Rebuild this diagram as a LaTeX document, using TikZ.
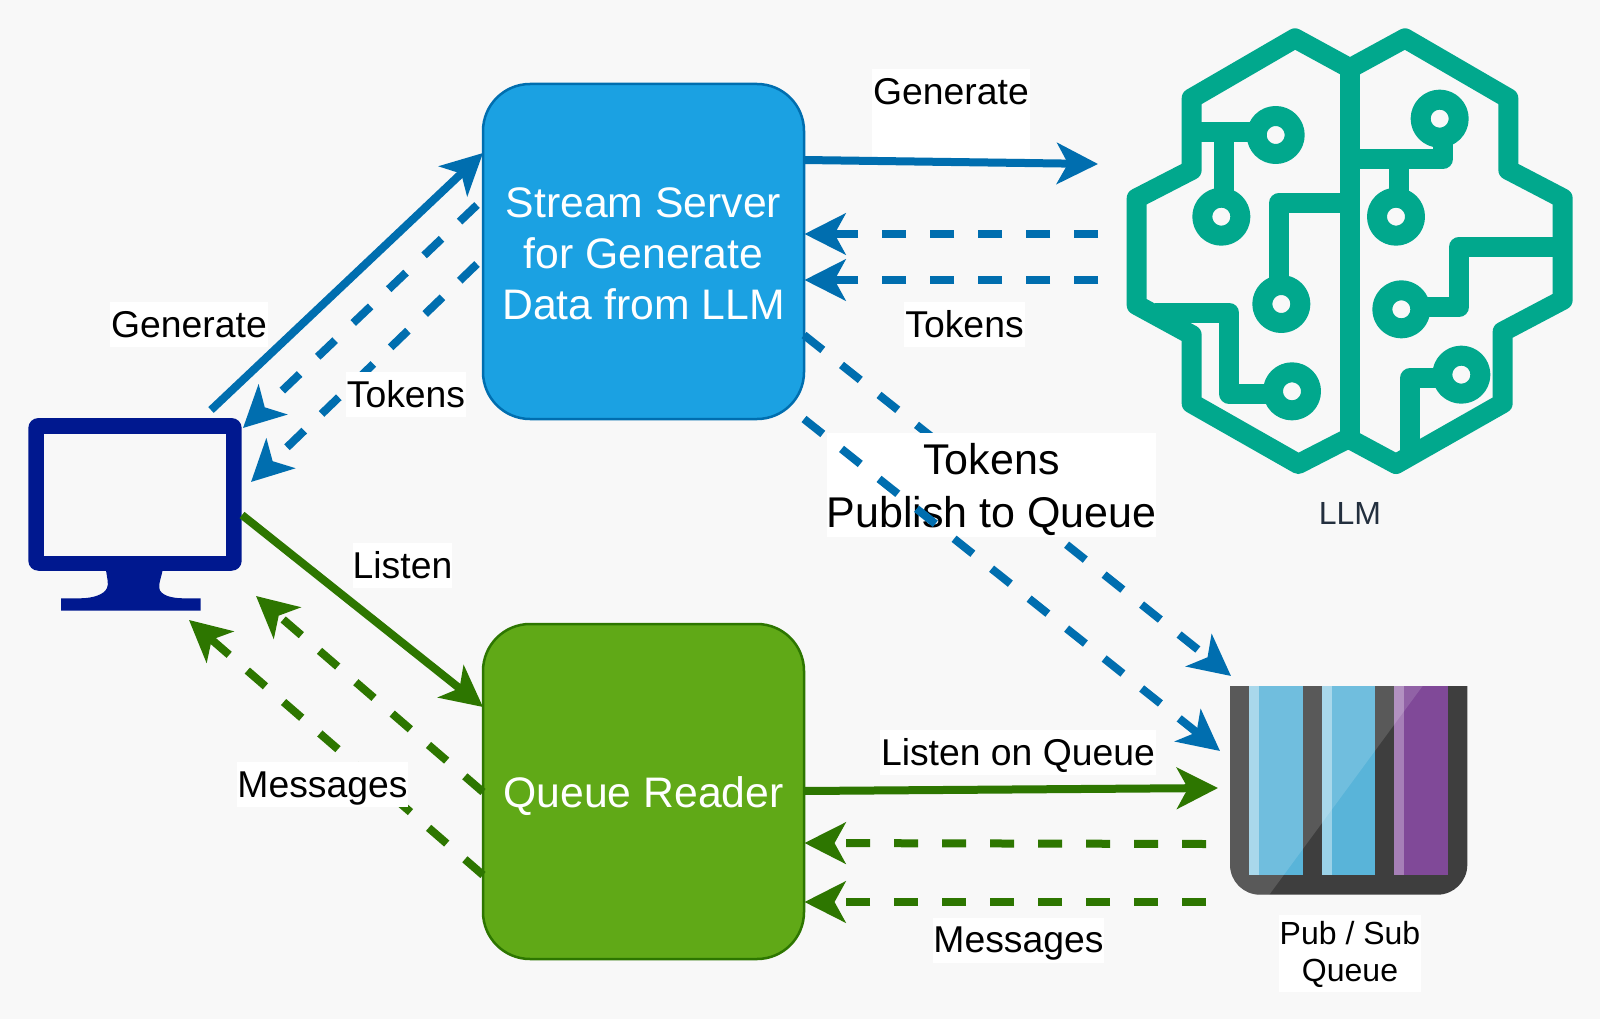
\documentclass[tikz,border=0pt]{standalone}
\usepackage{fontspec}
\setmainfont{Liberation Sans}
\usetikzlibrary{arrows.meta}
\definecolor{bgc}{HTML}{F8F8F8}
\definecolor{bluel}{HTML}{006EAF}
\definecolor{greenl}{HTML}{2D7600}
\definecolor{blueb}{HTML}{1BA1E2}
\definecolor{greenb}{HTML}{60A917}
\definecolor{teal}{HTML}{01A88D}
\definecolor{mon}{HTML}{00188F}
\definecolor{llmtext}{HTML}{232F3E}
\definecolor{qdark}{HTML}{3E3E3E}
\definecolor{qblue}{HTML}{59B4D9}
\definecolor{qpurple}{HTML}{804998}
\tikzset{
  headtip/.tip={Stealth[length=41pt,width=41pt,inset=11pt]},
  conn/.style={line width=8pt,-headtip},
  dashconn/.style={conn,dash pattern=on 24pt off 24pt},
  blueconn/.style={bluel,conn},
  bluedash/.style={bluel,dashconn},
  greenconn/.style={greenl,conn},
  greendash/.style={greenl,dashconn},
  proc/.style={rounded corners=47pt,line width=2.5pt,inner sep=0pt,minimum width=321pt,text=white,
    font=\fontsize{42.7}{51.2}\selectfont,align=center},
  lab/.style={fill=white,inner sep=0pt,font=\fontsize{37.33}{43}\selectfont,text=black,align=center},
  wire/.style={line width=20pt,teal,line join=round},
  pad/.style={wire,fill=bgc},
}
\begin{document}
\begin{tikzpicture}[x=1pt,y=-1pt]
\useasboundingbox (0,0) rectangle (1600,1019);
\fill[bgc] (0,0) rectangle (1600,1019);

% Stream server and queue reader
\node[proc,fill=blueb,draw=bluel,minimum height=335pt,text height=146pt,text depth=10pt] (server) at (643.5,251.5) {Stream Server\\for Generate\\Data from LLM};
\node[proc,fill=greenb,draw=greenl,minimum height=335pt,text height=40pt,text depth=9pt] (reader) at (643.5,791.5) {Queue Reader};

% Monitor
\node[fill=mon,rounded corners=10pt,inner sep=0pt,minimum width=213.4pt,minimum height=152.7pt] (client) at (135,494.4) {};
\fill[bgc] (44,434) rectangle (226,555.7);
\fill[mon] (106,570) .. controls (107,578) and (109,584) .. (107,588)
  .. controls (104,595) and (92,598.3) .. (80,598.3) -- (61,598.3) -- (61,610.7) -- (200.7,610.7) -- (200.7,598.3) -- (183.3,598.3)
  .. controls (171,598.3) and (160,595) .. (159.3,588) .. controls (158.5,584) and (161,578) .. (162.7,570) -- cycle;

% LLM brain
\node[inner sep=0pt,minimum width=444pt,minimum height=448pt] (llm) at (1350,250) {};
\begin{scope}[shift={(1110,10)},x=0.33333pt,y=-0.33333pt]
  \draw[wire] (720,175) -- (555,85) -- (245,265) -- (245,480) -- (80,565) -- (80,885) -- (245,975) -- (245,1180) -- (565,1362) -- (715,1285) -- (858,1362) -- (1178,1180) -- (1178,965) -- (1358,870) -- (1358,565) -- (1195,480) -- (1195,265) -- (885,85) -- cycle;
  \draw[wire] (720,175) -- (720,1290);
  \draw[wire] (245,367) -- (497,367);
  \draw[wire] (342,367) -- (342,620);
  \draw[wire] (720,578) -- (508,578) -- (508,882);
  \draw[wire] (135,908) -- (358,908) -- (358,1152) -- (546,1152);
  \draw[wire] (720,448) -- (998,448) -- (998,326);
  \draw[wire] (866,448) -- (866,620);
  \draw[wire] (1358,710) -- (1048,710) -- (1048,890) -- (874,890);
  \draw[wire] (1054,1105) -- (900,1105) -- (900,1325);
  \foreach \px/\py in {497/375,334/620,514/882,546/1144,989/326,858/620,874/898,1054/1094}
    \draw[pad] (\px,\py) circle[radius=57];
\end{scope}

% Pub/Sub queue
\node[inner sep=0pt,minimum width=237.3pt,minimum height=208.7pt] (queue) at (1348.6,790.4) {};
\fill[qdark] (1230,686) -- (1467.3,686) -- (1467.3,864.7) .. controls (1467.3,881.3) and (1453.9,894.7) .. (1437.3,894.7) -- (1260,894.7) .. controls (1243.4,894.7) and (1230,881.3) .. (1230,864.7) -- cycle;
\fill[qblue] (1249.3,686) rectangle (1302.7,875);
\fill[qblue] (1322,686) rectangle (1375.3,875);
\fill[qpurple] (1394.3,686) rectangle (1448,875);
\fill[white,opacity=0.4] (1249.3,686) rectangle (1259,875);
\fill[white,opacity=0.4] (1322,686) rectangle (1331.7,875);
\fill[white,opacity=0.3] (1394.3,686) rectangle (1404,875);
\begin{scope}
  \clip (1230,686) -- (1467.3,686) -- (1467.3,864.7) .. controls (1467.3,881.3) and (1453.9,894.7) .. (1437.3,894.7) -- (1260,894.7) .. controls (1243.4,894.7) and (1230,881.3) .. (1230,864.7) -- cycle;
  \fill[white,opacity=0.14] (1225,680) -- (1427,680) -- (1269.3,894.7) -- (1225,900) -- cycle;
\end{scope}

% Connector ends
\coordinate (cGenOut) at (211,410);
\coordinate (sGenIn) at (483,153);
\coordinate (sTokA) at (477,205);
\coordinate (cTokA) at (243,428);
\coordinate (sTokB) at (477,264);
\coordinate (cTokB) at (251,482);
\coordinate (sGenOut) at (804,160);
\coordinate (lGenIn) at (1098,164);
\coordinate (lTokA) at (1098,234);
\coordinate (sTokC) at (804.5,234);
\coordinate (lTokB) at (1098,280);
\coordinate (sTokD) at (804.5,280);
\coordinate (sPubA) at (804,335);
\coordinate (qPubA) at (1231,676);
\coordinate (sPubB) at (804,419);
\coordinate (qPubB) at (1220,751);
\coordinate (cLisOut) at (242,515);
\coordinate (rLisIn) at (483,707);
\coordinate (rMsgA) at (483,792);
\coordinate (cMsgA) at (256,596);
\coordinate (rMsgB) at (483,875);
\coordinate (cMsgB) at (189,620);
\coordinate (rLisOut) at (804,791);
\coordinate (qLisIn) at (1218,788);
\coordinate (qMsgA) at (1206,844);
\coordinate (rMsgC) at (804.5,843);
\coordinate (qMsgB) at (1206,902);
\coordinate (rMsgD) at (804.5,902);

% Connectors under the labels
\draw[blueconn] (cGenOut) -- (sGenIn);
\draw[bluedash,dash pattern=on 24pt off 25pt] (sTokA) -- (cTokA);
\draw[bluedash] (sTokB) -- (cTokB);
\draw[bluedash] (lTokA) -- (sTokC);
\draw[bluedash] (lTokB) -- (sTokD);
\draw[bluedash] (sPubA) -- (qPubA);
\draw[greenconn] (cLisOut) -- (rLisIn);
\draw[greendash] (rMsgA) -- (cMsgA);
\draw[greendash] (rMsgB) -- (cMsgB);
\draw[greenconn] (rLisOut) -- (qLisIn);
\draw[greendash] (qMsgA) -- (rMsgC);
\draw[greendash] (qMsgB) -- (rMsgD);

% Labels
\node[lab,minimum width=158pt,text height=36pt,text depth=53pt] (lgen1) at (951,113.5) {Generate};
\node[lab,minimum width=121pt,text height=35pt,text depth=10pt] (ltok1) at (964.5,324.5) {Tokens};
\node[lab,minimum width=158pt,text height=35pt,text depth=10pt] (lgen2) at (189,324.5) {Generate};
\node[lab,minimum width=120pt,text height=35pt,text depth=10pt] (ltok2) at (406,394.5) {Tokens};
\node[lab,minimum width=99pt,text height=35pt,text depth=10pt] (llis1) at (402.5,565.5) {Listen};
\node[lab,minimum width=169pt,text height=35pt,text depth=10pt] (lmsg1) at (322.5,784.5) {Messages};
\node[lab,minimum width=276pt,text height=35pt,text depth=10pt] (llis2) at (1018,752.5) {Listen on Queue};
\node[lab,minimum width=169pt,text height=35pt,text depth=10pt] (lmsg2) at (1018.5,940) {Messages};
\node[lab,minimum width=329pt,text height=94pt,text depth=10pt,font=\fontsize{43}{53}\selectfont] (lpub) at (991.5,485) {Tokens\\Publish to Queue};
\node[lab,minimum width=142pt,text height=66pt,text depth=11pt,font=\fontsize{32}{37}\selectfont] (lqueue) at (1350,953.5) {Pub / Sub\\Queue};
\node[inner sep=0pt,text=llmtext,font=\fontsize{32}{38}\selectfont] (lllm) at (1350,513) {LLM};

% Connectors over the labels
\draw[bluedash] (sPubB) -- (qPubB);
\draw[blueconn] (sGenOut) -- (lGenIn);
\end{tikzpicture}
\end{document}
